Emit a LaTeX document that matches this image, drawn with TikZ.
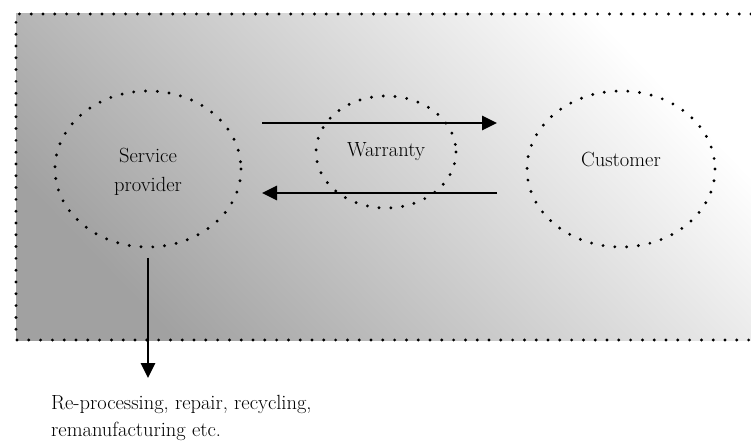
\documentclass[tikz,border=0pt]{standalone}
\usepackage{fontspec}
\setmainfont{Latin Modern Roman}
\usetikzlibrary{shapes.geometric,arrows.meta}
\begin{document}
\begin{tikzpicture}[x=1pt,y=-1pt,
  dots/.style={line width=3.2pt,line cap=round,dash pattern=on 0pt off 11.8pt},
  flow/.style={line width=2.8pt,-{Triangle[length=15pt,width=14pt]}},
  lbl/.style={font=\fontsize{20.5}{29}\selectfont}]
\useasboundingbox (0,0) rectangle (751,443);
% shaded panel, darker towards the lower left
\shade[top color=white,bottom color=black!37,shading angle=-46] (16,14) rectangle (751,340);
\draw[dots] (751,14) -- (16,14) -- (16,340) -- (751,340);
% the three parties
\draw[dots] (148,169) ellipse [x radius=93,y radius=78];
\draw[dots] (386,152) ellipse [x radius=70,y radius=56];
\draw[dots] (621,169) ellipse [x radius=94,y radius=78];
\node[lbl,align=center] (sp) at (148,172) {Service\\provider};
\node[lbl,anchor=base] (wa) at (386,157) {Warranty};
\node[lbl,anchor=base] (cu) at (621,167) {Customer};
% exchanges between provider and customer
\coordinate (a1) at (262,123);
\coordinate (a2) at (497,123);
\coordinate (b1) at (497,193);
\coordinate (b2) at (262,193);
\draw[flow] (a1) -- (a2);
\draw[flow] (b1) -- (b2);
% end-of-life route
\coordinate (d1) at (148,258);
\coordinate (d2) at (148,378);
\draw[flow] (d1) -- (d2);
\node[lbl,font=\fontsize{20.5}{27}\selectfont,align=left,anchor=north west,inner sep=0pt] (eol) at (51,395) {Re-processing, repair, recycling,\\remanufacturing etc.};
\end{tikzpicture}
\end{document}
